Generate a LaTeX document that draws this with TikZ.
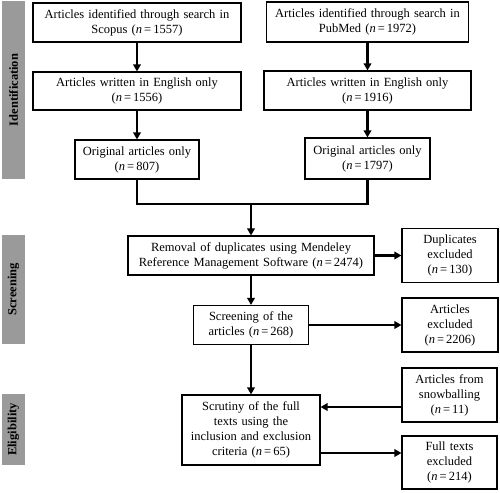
\documentclass[tikz,border=0pt]{standalone}
\usepackage{fontspec}
\setmainfont{Liberation Serif}
\usetikzlibrary{arrows.meta}
\definecolor{barfill}{HTML}{9A9A9A}
\begin{document}
\begin{tikzpicture}
[x=1pt,y=-1pt,
  font=\fontsize{12.5}{15}\selectfont,
  boxdecorate/.style={shape=rectangle,draw,line width=1.1pt,align=center,inner xsep=2pt,inner ysep=1pt},%
  bardecorate/.style={shape=rectangle,fill=barfill,rotate=90,minimum height=23pt,inner sep=0pt,font=\fontsize{12.5}{15}\selectfont\bfseries},%
  linedecorate/.style={-{Triangle[length=7pt,width=7.5pt]},line width=2.2pt}]
\useasboundingbox (0,0) rectangle (500,492);
% side bars
\node (idbar) at (13.5,90) [bardecorate,minimum width=178pt] {Identification};
\node (scbar) at (13.5,289.5) [bardecorate,minimum width=109pt] {Screening};
\node (elbar) at (13.5,429.5) [bardecorate,minimum width=71pt] {Eligibility};
% nodes or boxes
\node (scopus) at (137,22.5) [boxdecorate,text width=204pt,minimum height=39pt] {Articles identified through search in\\ Scopus (\textit{n}\,=\,1557)};
\node (engL) at (137,91) [boxdecorate,text width=204pt,minimum height=38pt] {Articles written in English only\\ (\textit{n}\,=\,1556)};
\node (origL) at (137,159.5) [boxdecorate,text width=120pt,minimum height=39pt] {Original articles only\\ (\textit{n}\,=\,807)};
\node (pubmed) at (367.5,22) [boxdecorate,text width=198pt,minimum height=40pt] {Articles identified through search in\\ PubMed (\textit{n}\,=\,1972)};
\node (engR) at (367.5,90.5) [boxdecorate,text width=203pt,minimum height=39pt] {Articles written in English only\\ (\textit{n}\,=\,1916)};
\node (origR) at (367.5,158.5) [boxdecorate,text width=121pt,minimum height=41pt] {Original articles only\\ (\textit{n}\,=\,1797)};
\coordinate (merge) at (251,204);
\node (removal) at (251,255.5) [boxdecorate,text width=242pt,minimum height=39pt] {Removal of duplicates using Mendeley\\ Reference Management Software (\textit{n}\,=\,2474)};
\node (dup) at (450,255.5) [boxdecorate,text width=92pt,minimum height=54pt] {Duplicates\\ excluded\\ (\textit{n}\,=\,130)};
\node (screen) at (251,325) [boxdecorate,text width=111pt,minimum height=39pt] {Screening of the\\ articles (\textit{n}\,=\,268)};
\node (artexc) at (450,325) [boxdecorate,text width=92pt,minimum height=54pt] {Articles\\ excluded\\ (\textit{n}\,=\,2206)};
\node (scrut) at (251,430) [boxdecorate,text width=134pt,minimum height=70pt] {Scrutiny of the full\\ texts using the\\ inclusion and exclusion\\ criteria (\textit{n}\,=\,65)};
\node (snow) at (449.5,395) [boxdecorate,text width=91pt,minimum height=54pt] {Articles from\\ snowballing\\ (\textit{n}\,=\,11)};
\node (full) at (449.5,462.5) [boxdecorate,text width=91pt,minimum height=53pt] {Full texts\\ excluded\\ (\textit{n}\,=\,214)};
\coordinate (snowout) at ([yshift=-12pt]snow.west);
\coordinate (scrutout) at ([yshift=-23pt]scrut.east);
% edges or arrows
\draw[line width=2.2pt] (origL.south) |- (merge) -| (origR.south);
\path
(scopus) edge[linedecorate] (engL)
(engL) edge[linedecorate] (origL)
(pubmed) edge[linedecorate] (engR)
(engR) edge[linedecorate] (origR)
(merge) edge[linedecorate] (removal)
(removal) edge[linedecorate] (dup)
(removal) edge[linedecorate] (screen)
(screen) edge[linedecorate] (artexc)
(screen) edge[linedecorate] (scrut)
(snowout) edge[linedecorate] (snowout -| scrut.east)
(scrutout) edge[linedecorate] (scrutout -| full.west);
\end{tikzpicture}
\end{document}
